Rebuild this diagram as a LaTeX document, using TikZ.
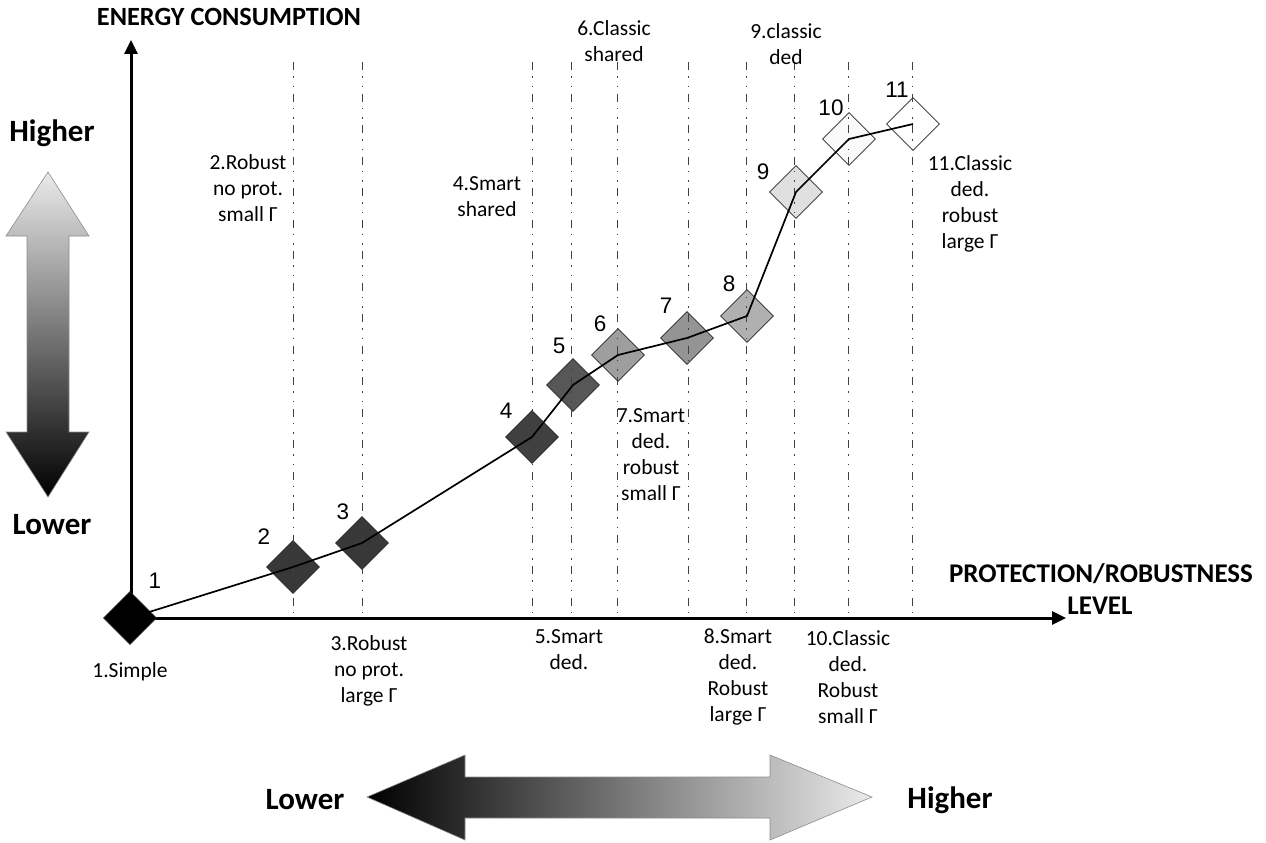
\documentclass[tikz,border=0pt]{standalone}
\usepackage{fontspec}
\setmainfont{Carlito}
\newfontfamily\arial{Liberation Sans}
\usetikzlibrary{shapes.geometric,arrows.meta}
\begin{document}
\begin{tikzpicture}[x=1pt,y=-1pt,
  dia/.style={draw=black!85, line width=0.8pt, shape=diamond, aspect=1, minimum width=53pt, minimum height=53pt, inner sep=0pt},
  num/.style={font=\arial\fontsize{22.5}{25}\selectfont, inner sep=0pt},
  lab/.style={font=\fontsize{21.5}{26}\selectfont, align=center, inner sep=0pt},
  big/.style={font=\bfseries\fontsize{26.3}{30}\selectfont, inner sep=0pt},
  bigger/.style={font=\bfseries\fontsize{31}{34}\selectfont, inner sep=0pt},
  guide/.style={draw=black!75, line width=1pt, dash pattern=on 8pt off 6pt on 1.5pt off 8pt on 1.5pt off 6.5pt},
  axis/.style={line width=3pt, -{Triangle[length=14pt,width=13pt]}},
  trend/.style={line width=1.7pt, line join=round},
  fatarrow/.style={draw=black!45, line width=0.6pt}
]
\useasboundingbox (0,0) rectangle (1266,843);

% big gradient arrows
\path[fatarrow, top color=black!8, bottom color=black]
  (48,172) -- (89,236) -- (69,236) -- (69,432) -- (89,432) -- (48,497)
  -- (6,432) -- (27,432) -- (27,236) -- (6,236) -- cycle;
\path[fatarrow, left color=black, right color=black!8]
  (367,797) -- (465,755) -- (465,777) -- (770,777) -- (770,755) -- (872,797)
  -- (770,840) -- (770,818) -- (465,818) -- (465,840) -- cycle;

% axes
\coordinate (O) at (131,618);
\coordinate (ytip) at (131,40);
\coordinate (xtip) at (1066,618);
\draw[axis] (131,620) -- (ytip);
\draw[axis] (O) -- (xtip);

% diamonds
\node[dia, fill=black]       (d1)  at (130,618) {};
\node[dia, fill=black!78]    (d2)  at (293,567) {};
\node[dia, fill=black!78]    (d3)  at (362,543) {};
\node[dia, fill=black!75]    (d4)  at (532,437) {};
\node[dia, fill=black!66]    (d5)  at (573,385) {};
\node[dia, fill=black!38]    (d6)  at (618,355) {};
\node[dia, fill=black!42]    (d7)  at (687,338) {};
\node[dia, fill=black!31]    (d8)  at (747,316) {};
\node[dia, fill=black!12]    (d9)  at (796,192) {};
\node[dia, fill=black!2]     (d10) at (849,139) {};
\node[dia, fill=white]       (d11) at (913,124) {};

% guide lines
\foreach \x in {293,362,532,571,617,688,746,794,848,912}
  \draw[guide] (\x,62) -- (\x,612);

% trend line
\draw[trend] (d1.center) -- (d2.center) -- (d3.center) -- (d4.center) -- (d5.center)
  -- (d6.center) -- (d7.center) -- (d8.center) -- (d9.center) -- (d10.center) -- (d11.center);

% numbers
\node[num] (n1)  at (155,581) {1};
\node[num] (n2)  at (264,537) {2};
\node[num] (n3)  at (343,512) {3};
\node[num] (n4)  at (506,411) {4};
\node[num] (n5)  at (559,346) {5};
\node[num] (n6)  at (600,324) {6};
\node[num] (n7)  at (666,306) {7};
\node[num] (n8)  at (729,284) {8};
\node[num] (n9)  at (763,172) {9};
\node[num] (n10) at (831,108) {10};
\node[num] (n11) at (897,90)  {11};

% labels
\node[lab] (l1)  at (130,672) {1.Simple};
\node[lab] (l2)  at (248,188) {2.Robust\\no prot.\\small Γ};
\node[lab] (l3)  at (369,671) {3.Robust\\no prot.\\large Γ};
\node[lab] (l4)  at (487,197) {4.Smart\\shared};
\node[lab] (l5)  at (569,650) {5.Smart\\ded.};
\node[lab] (l6)  at (614,41)  {6.Classic\\shared};
\node[lab] (l7)  at (651,455) {7.Smart\\ded.\\robust\\small Γ};
\node[lab] (l8)  at (738,677) {8.Smart\\ded.\\Robust\\large Γ};
\node[lab] (l9)  at (786,44)  {9.classic\\ded};
\node[lab] (l10) at (848,677) {10.Classic\\ded.\\Robust\\small Γ};
\node[lab] (l11) at (970,204) {11.Classic\\ded.\\robust\\large Γ};

% big texts
\node[big] (ec)  at (229,17)  {ENERGY CONSUMPTION};
\node[bigger] (hi1) at (52,133)  {Higher};
\node[bigger] (lo1) at (52,525)  {Lower};
\node[big, font=\bfseries\fontsize{27}{30}\selectfont] (pr)  at (1101,574) {PROTECTION/ROBUSTNESS};
\node[big, font=\bfseries\fontsize{27}{30}\selectfont] (lv)  at (1100,606) {LEVEL};
\node[bigger] (lo2) at (305,800) {Lower};
\node[bigger] (hi2) at (950,800) {Higher};
\end{tikzpicture}
\end{document}
